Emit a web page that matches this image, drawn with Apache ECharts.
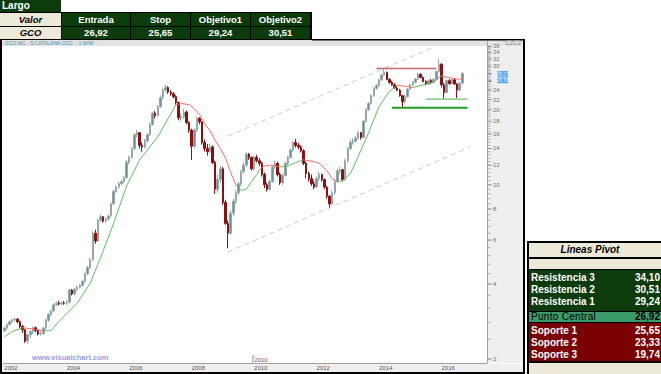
<!DOCTYPE html>
<html><head><meta charset="utf-8">
<script src="https://cdn.jsdelivr.net/npm/echarts@6/dist/echarts.min.js"></script>
<style>
html,body{margin:0;padding:0;background:#fff;width:661px;height:374px;overflow:hidden;font-family:"Liberation Sans",Arial,sans-serif;}
#chart{position:absolute;left:0;top:0;width:661px;height:374px;}
.c{position:absolute;box-sizing:border-box;white-space:nowrap;overflow:hidden;}
</style></head><body>
<div id="chart"></div>
<div id="tables"></div>
<script>
// ---------- DATA ----------
const years = [2002,2003,2004,2005,2006,2007,2008,2009,2010,2011,2012,2013,2014,2015,2016,2017];
const monthCodes = ['01','02','03','04','05','06','07','08','09','10','11','12'];
const lastCategory = '2017-06';

const opens = [
 2.60,2.66,2.75,2.82,2.87,2.89,2.82,2.70,2.62,2.36,2.50,2.58,
 2.67,2.60,2.52,2.53,2.66,2.86,3.02,3.12,3.30,3.35,3.33,3.36,
 3.35,3.38,3.78,3.65,3.80,3.88,3.95,4.10,4.40,4.65,5.00,6.40,
 5.95,7.20,7.45,7.15,7.30,7.50,8.40,9.40,9.80,10.1,10.3,10.7,
 12.3,12.9,14.0,15.9,16.2,14.4,14.2,15.0,15.9,17.5,19.4,19.0,
 20.6,22.4,24.0,24.6,23.6,23.2,22.6,21.4,18.6,18.8,19.6,17.8,
 16.6,14.3,16.6,18.5,17.9,14.8,14.0,13.6,14.2,12.3,9.6,10.5,
 11.6,8.5,7.0,6.4,7.7,8.6,9.3,10.1,11.3,12.0,13.3,12.9,
 11.6,12.9,12.5,12.2,11.0,10.0,9.6,10.3,11.8,12.2,11.0,10.2,
 10.9,12.2,12.9,13.8,14.8,14.4,14.2,13.7,12.2,11.1,10.6,10.1,
 9.8,10.6,11.0,10.5,9.8,9.0,8.4,9.3,10.3,11.4,11.5,10.5,
 12.5,14.0,14.8,15.0,15.4,16.2,15.5,18.0,20.0,21.2,22.8,24.4,
 25.0,26.4,27.6,28.3,26.5,25.8,25.2,24.5,24.0,22.8,21.6,22.6,
 24.2,25.2,25.8,26.6,27.8,27.0,26.0,25.4,26.2,25.8,26.5,28.5,
 30.5,25.2,23.5,26.2,25.5,26.4,25.4,24.0,25.6
];
const closes = [
 2.66,2.75,2.82,2.87,2.89,2.82,2.70,2.62,2.36,2.50,2.58,2.67,
 2.60,2.52,2.53,2.66,2.86,3.02,3.12,3.30,3.35,3.33,3.36,3.35,
 3.38,3.78,3.65,3.80,3.88,3.95,4.10,4.40,4.65,5.00,6.40,5.95,
 7.20,7.45,7.15,7.30,7.50,8.40,9.40,9.80,10.1,10.3,10.7,12.3,
 12.9,14.0,15.9,16.2,14.4,14.2,15.0,15.9,17.5,19.4,19.0,20.6,
 22.4,24.0,24.6,23.6,23.2,22.6,21.4,18.6,18.8,19.6,17.8,16.6,
 14.3,16.6,18.5,17.9,14.8,14.0,13.6,14.2,12.3,9.6,10.5,11.6,
 8.5,7.0,6.4,7.7,8.6,9.3,10.1,11.3,12.0,13.3,12.9,11.6,
 12.9,12.5,12.2,11.0,10.0,9.6,10.3,11.8,12.2,11.0,10.2,10.9,
 12.2,12.9,13.8,14.8,14.4,14.2,13.7,12.2,11.1,10.6,10.1,9.8,
 10.6,11.0,10.5,9.8,9.0,8.4,9.3,10.3,11.4,11.5,10.5,12.5,
 14.0,14.8,15.0,15.4,16.2,15.5,18.0,20.0,21.2,22.8,24.4,25.0,
 26.4,27.6,28.3,26.5,25.8,25.2,24.5,24.0,22.8,21.6,22.6,24.2,
 25.2,25.8,26.6,27.8,27.0,26.0,25.4,26.2,25.8,26.5,28.5,30.5,
 25.2,23.5,26.2,25.5,26.4,25.4,24.0,25.6,28.07
];
const lows = [
 2.56,2.62,2.72,2.78,2.83,2.78,2.66,2.55,2.32,2.30,2.42,2.52,
 2.56,2.48,2.48,2.50,2.62,2.82,2.98,3.08,3.26,3.28,3.28,3.30,
 3.30,3.34,3.60,3.60,3.74,3.84,3.90,4.05,4.35,4.60,4.95,5.80,
 5.90,7.10,7.05,7.05,7.20,7.45,8.30,9.30,9.65,9.95,10.2,10.6,
 12.1,12.7,13.8,15.5,14.0,13.6,14.0,14.8,15.7,17.3,18.5,18.8,
 20.4,22.0,23.6,23.2,22.8,22.2,21.0,18.2,18.0,18.4,17.5,16.2,
 12.6,14.0,16.3,17.5,14.5,13.6,13.1,13.4,12.1,9.2,9.3,10.2,
 8.3,6.9,5.56,6.3,7.5,8.4,9.1,9.9,11.1,11.8,12.6,11.4,
 11.4,12.3,11.9,10.8,9.7,9.4,9.5,10.2,11.6,10.8,10.0,10.0,
 10.8,12.0,12.7,13.6,14.1,13.9,13.5,12.0,10.6,10.3,9.9,9.6,
 9.7,10.4,10.3,9.6,8.8,8.1,8.3,9.1,10.2,11.1,10.3,10.4,
 12.3,13.8,14.5,14.8,15.2,15.2,15.4,17.8,19.8,21.0,22.6,24.1,
 24.8,26.1,27.4,26.3,25.4,25.0,24.3,23.8,22.6,20.4,21.3,22.4,
 24.0,25.0,25.6,26.4,26.8,25.8,25.1,25.2,25.4,25.6,26.3,28.3,
 24.6,22.2,23.3,25.2,25.3,25.2,22.3,23.8,25.4
];
const highs = [
 2.70,2.78,2.86,2.90,2.93,2.92,2.85,2.74,2.64,2.52,2.60,2.70,
 2.70,2.64,2.58,2.70,2.90,3.06,3.16,3.34,3.40,3.42,3.40,3.42,
 3.45,3.82,3.82,3.86,3.94,4.00,4.16,4.45,4.72,5.10,6.50,6.60,
 7.30,7.60,7.50,7.40,7.60,8.50,9.55,9.95,10.3,10.5,10.9,12.6,
 13.1,14.2,16.1,16.6,16.3,14.8,15.3,16.1,17.8,19.7,19.8,20.9,
 22.8,24.4,25.2,24.9,24.0,23.6,22.9,21.6,19.4,20.2,19.9,18.0,
 16.8,16.9,18.8,18.7,18.0,15.2,14.6,14.6,14.4,12.5,11.0,11.9,
 11.8,8.7,7.2,7.9,8.8,9.5,10.3,11.5,12.3,13.5,13.4,13.0,
 13.1,13.2,12.8,12.4,11.2,10.2,10.5,12.0,12.5,12.4,11.2,11.1,
 12.4,13.1,14.0,15.0,15.3,14.7,14.4,13.9,12.4,11.3,11.0,10.4,
 10.8,11.3,11.1,10.6,9.9,9.1,9.5,10.5,11.6,11.8,11.6,12.7,
 14.2,15.2,15.4,15.7,16.5,16.3,18.2,20.3,21.5,23.1,24.7,25.4,
 26.7,27.9,29.3,28.5,26.8,26.2,25.6,24.9,24.3,23.0,23.0,24.5,
 25.5,26.1,26.9,28.2,28.1,27.2,26.3,26.5,26.6,26.8,28.8,32.0,
 30.8,25.6,26.5,26.6,26.7,26.7,25.6,25.9,28.3
];

const maGreenSegments = [
 [['2002-01',2.45],['2002-04',2.58],['2002-08',2.67]],
 [['2003-04',2.59],['2003-07',2.60],['2003-10',2.83],['2004-05',3.35],['2004-10',4.03],['2005-02',5.1],['2005-07',7.0],['2005-12',9.9],['2006-05',12.6],['2006-12',15.6],['2007-07',21.0]],
 [['2009-06',10.0],['2009-08',9.5],['2009-10',9.6],['2009-12',10.3],['2010-02',11.0],['2010-03',11.5]],
 [['2010-11',11.8],['2011-02',11.9],['2011-05',12.3],['2011-08',12.6]],
 [['2012-09',10.3],['2012-11',10.4],['2013-02',11.1],['2013-05',13.0],['2013-09',16.2],['2014-01',20.6],['2014-05',23.7],['2014-08',25.1]],
 [['2015-02',24.6],['2015-06',25.2],['2015-10',25.8],['2015-12',27.0],['2016-01',27.4]]
];
const maRedSegments = [
 [['2002-08',2.67],['2002-12',2.64],['2003-04',2.59]],
 [['2007-07',21.0],['2007-09',21.2],['2007-12',21.0],['2008-02',20.2],['2008-04',19.2],['2008-06',17.6],['2008-08',16.5],['2008-10',15.1],['2008-12',14.0],['2009-02',12.8],['2009-04',11.2],['2009-06',10.0]],
 [['2010-03',11.5],['2010-05',11.9],['2010-08',12.0],['2010-11',11.8]],
 [['2011-08',12.6],['2011-12',12.4],['2012-02',12.2],['2012-05',11.4],['2012-07',10.6],['2012-09',10.3]],
 [['2014-08',25.1],['2014-11',24.9],['2015-02',24.6]],
 [['2016-01',27.4],['2016-04',26.9],['2016-07',26.6],['2016-09',26.56]]
];

const channelUpper = [['2009-03',15.7],['2015-10',35.8]];
const channelLower = [['2009-03',5.38],['2016-12',14.2]];
const resistanceLine = [['2013-12',29.3],['2015-11',29.3]];
const supportThin = [['2015-07',22.1],['2016-11',22.1]];
const supportThick = [['2014-06',20.4],['2016-11',20.4]];

const yTickLabels = [2,4,6,8,10,12,14,16,18,20,22,24,26,28,30,32,34,36];
const yMinorStep = 0.4;
const lastValues = [28.07, 26.56];
const lastValueLabels = ['28,07','26,56'];

const tradeTitle = 'Largo';
const tradeHeaders = ['Valor','Entrada','Stop','Objetivo1','Objetivo2'];
const tradeValues = ['GCO','26,92','25,65','29,24','30,51'];
const pivotTitle = 'Lineas Pivot';
const pivotLabels = ['Resistencia 3','Resistencia 2','Resistencia 1','Punto Central','Soporte 1','Soporte 2','Soporte 3'];
const pivotValues = ['34,10','30,51','29,24','26,92','25,65','23,33','19,74'];
const infoText = 'GCO.MC - S.CATALANA OCC. - 1 W/W';
const watermark = 'www.visualchart.com';
const cursorLabel = '2010';

// ---------- BUILD ----------
const categories = [];
outer: for (const y of years) { for (const m of monthCodes) { const c = y + '-' + m; categories.push(c); if (c === lastCategory) break outer; } }
const candles = closes.map((c, i) => [opens[i], c, lows[i], highs[i]]);
const isYearStart = (i, v) => v.endsWith('-01') && parseInt(v, 10) % 2 === 0 && parseInt(v,10) <= 2016;
const FONT = '"Liberation Sans", Arial, sans-serif';

const series = [{
  type: 'candlestick', data: candles, barWidth: 2, silent: true,
  itemStyle: { color: '#6b9494', color0: '#8b1111', borderColor: '#93a9a9', borderColor0: '#8b1111', borderWidth: 1 }
}];
maRedSegments.forEach(seg => series.push({ type: 'line', data: seg, symbol: 'none', silent: true, z: 3, lineStyle: { color: '#ff6a6a', width: 1 } }));
maGreenSegments.forEach(seg => series.push({ type: 'line', data: seg, symbol: 'none', silent: true, z: 3, lineStyle: { color: '#5cbf5c', width: 1 } }));
[channelUpper, channelLower].forEach(seg => series.push({ type: 'line', data: seg, symbol: 'none', silent: true, z: 3, lineStyle: { color: '#c9c9c9', width: 1, type: [5, 4] } }));
series.push({ type: 'line', data: resistanceLine, symbol: 'none', silent: true, z: 4, lineStyle: { color: '#c86a6a', width: 1.5 } });
series.push({ type: 'line', data: supportThin, symbol: 'none', silent: true, z: 4, lineStyle: { color: '#6cbf6c', width: 1.2 } });
series.push({ type: 'line', data: supportThick, symbol: 'none', silent: true, z: 4, lineStyle: { color: '#1f9f1f', width: 2 } });

const chart = echarts.init(document.getElementById('chart'), null, { renderer: 'svg', width: 661, height: 374 });
chart.setOption({
  animation: false,
  backgroundColor: 'transparent',
  grid: { left: 3, top: 41, width: 484, height: 322, containLabel: false, outerBoundsMode: 'none' },
  xAxis: {
    type: 'category', data: categories, boundaryGap: true,
    axisLine: { onZero: false, lineStyle: { color: '#a0a0a0', width: 1 } },
    axisTick: { interval: isYearStart, length: 8, lineStyle: { color: '#808080' } },
    axisLabel: { interval: isYearStart, formatter: v => v.slice(0, 4), fontSize: 6, color: '#555', align: 'left', margin: 2, fontFamily: FONT },
    splitLine: { show: false }
  },
  yAxis: {
    type: 'log', logBase: 2, position: 'right', min: 1.927, max: 37.8,
    axisLine: { show: true, lineStyle: { color: '#a0a0a0' } },
    axisTick: { show: false }, axisLabel: { show: false }, splitLine: { show: false }
  },
  series: series
});

// ---------- OVERLAYS (positions from the chart's scales) ----------
const yPix = v => chart.convertToPixel({ yAxisIndex: 0 }, v);
const xPix = c => chart.convertToPixel({ xAxisIndex: 0 }, c);
const g = [];
const rect = (x, y, w, h, fill, z) => g.push({ type: 'rect', silent: true, z: z, shape: { x, y, width: w, height: h }, style: { fill } });
rect(2, 40, 521, 6, '#e3e3e3', -1);
rect(488, 46, 35, 317, '#efefef', -1);
rect(2, 364, 521, 8, '#efefef', -1);
rect(0, 39, 2, 335, '#000', 90);
rect(523, 39, 2, 335, '#000', 90);
rect(0, 372, 525, 2, '#000', 90);
rect(312, 39, 213, 1.5, '#000', 90);
g.push({ type: 'rect', silent: true, z: 91, shape: { x: 506, y: 40.5, width: 6, height: 4 }, style: { fill: '#ddd', stroke: '#888', lineWidth: 0.6 } });
g.push({ type: 'rect', silent: true, z: 91, shape: { x: 514, y: 40.5, width: 6, height: 4 }, style: { fill: '#ddd', stroke: '#888', lineWidth: 0.6 } });
g.push({ type: 'text', silent: true, z: 91, x: 5, y: 43, style: { text: infoText, fontSize: 5, fontFamily: FONT, fill: '#4a8ea6', verticalAlign: 'middle' } });

// value boxes first (they hide the labels they cover, as in the reference)
const boxes = [];
let prevBottom = -1;
lastValues.forEach((v, i) => {
  let top = yPix(v) - 2;
  if (top < prevBottom + 0.8) top = prevBottom + 0.8;
  boxes.push([top, top + 5.6]);
  g.push({ type: 'rect', silent: true, z: 95, shape: { x: 497.5, y: top, width: 10.5, height: 5.6 }, style: { fill: '#3d9bf0' } });
  g.push({ type: 'text', silent: true, z: 96, x: 502.7, y: top + 2.9, style: { text: lastValueLabels[i], fontSize: 4.6, fontFamily: FONT, fill: '#fff', align: 'center', verticalAlign: 'middle' } });
  g.push({ type: 'line', silent: true, z: 95, shape: { x1: 489, y1: top + 2.8, x2: 491, y2: top + 2.8 }, style: { stroke: '#3d9bf0', lineWidth: 1.5 } });
  prevBottom = top + 5.6;
});

for (let k = 0; 2 + k * yMinorStep <= 36.01; k++) {
  const yy = yPix(2 + k * yMinorStep);
  g.push({ type: 'line', silent: true, z: 80, shape: { x1: 488, y1: yy, x2: 490.5, y2: yy }, style: { stroke: '#9a9a9a', lineWidth: 0.7 } });
}
yTickLabels.forEach(v => {
  const yy = yPix(v);
  g.push({ type: 'line', silent: true, z: 80, shape: { x1: 488, y1: yy, x2: 492, y2: yy }, style: { stroke: '#888', lineWidth: 0.8 } });
  const hidden = boxes.some(b => yy > b[0] - 3 && yy < b[1] + 3);
  if (!hidden) {
    g.push({ type: 'text', silent: true, z: 81, x: 493, y: yy, style: { text: String(v), fontSize: 6, fontFamily: FONT, fill: '#707070', verticalAlign: 'middle' } });
  }
});
g.push({ type: 'text', silent: true, z: 92, x: 32, y: 357, style: { text: watermark, fontSize: 7.5, fontWeight: 'bold', fontFamily: FONT, fill: '#9b9bd8', verticalAlign: 'middle' } });
const cx = xPix('2010-01') - 1.3;
g.push({ type: 'line', silent: true, z: 92, shape: { x1: cx, y1: 356, x2: cx, y2: 363 }, style: { stroke: '#666', lineWidth: 0.7 } });
g.push({ type: 'line', silent: true, z: 92, shape: { x1: cx, y1: 356, x2: cx + 2, y2: 356 }, style: { stroke: '#666', lineWidth: 0.7 } });
g.push({ type: 'text', silent: true, z: 92, x: cx + 1.5, y: 359.5, style: { text: cursorLabel, fontSize: 6, fontFamily: FONT, fill: '#555', verticalAlign: 'middle' } });
chart.setOption({ graphic: { elements: g } });

// ---------- HTML TABLES ----------
const host = document.getElementById('tables');
function box(x, y, w, h, bg, text, css) {
  const d = document.createElement('div');
  d.className = 'c';
  d.style.cssText = `left:${x}px;top:${y}px;width:${w}px;height:${h}px;background:${bg};line-height:${h}px;` + (css || '');
  if (text !== undefined) d.textContent = text;
  host.appendChild(d);
  return d;
}
const GREEN = '#0c3b0c', BEIGE = '#ece9d8', RED = '#7a0000', MID = '#3a9a6a';
// trade table
box(0, 0, 61, 12, GREEN, tradeTitle, 'color:#fff;font-weight:bold;font-size:10px;padding-left:2px;');
box(0, 12, 312, 28, '#000');
const colX = [[0, 61], [62, 68], [131, 59], [191, 59], [251, 59]];
tradeHeaders.forEach((t, i) => {
  const first = i === 0;
  box(colX[i][0], 13, colX[i][1], 13, first ? BEIGE : GREEN, t, `text-align:center;font-weight:bold;font-size:9.5px;color:${first ? '#000' : '#fff'};${first ? 'font-style:italic;' : ''}`);
});
tradeValues.forEach((t, i) => {
  const first = i === 0;
  box(colX[i][0], 27, colX[i][1], 12, first ? BEIGE : GREEN, t, `text-align:center;font-weight:bold;font-size:9.5px;color:${first ? '#000' : '#fff'};${first ? 'font-style:italic;' : ''}`);
});
// pivot table
box(527, 241, 134, 133, '#000');
box(529, 243, 132, 14, BEIGE);
box(529, 243, 122, 14, 'transparent', pivotTitle, 'text-align:center;font-weight:bold;font-style:italic;font-size:10px;color:#000;');
box(529, 259, 132, 10, BEIGE);
box(529, 270, 132, 41, GREEN);
box(529, 312, 132, 10, MID);
box(529, 323, 132, 38, RED);
box(529, 363, 132, 11, BEIGE);
const rowY = [272, 284, 296, 311, 324.5, 336.5, 348.5];
pivotLabels.forEach((t, i) => {
  const central = i === 3;
  box(531, rowY[i], 80, 12, 'transparent', t, `font-size:10px;font-weight:${central ? 'normal' : 'bold'};color:${central ? '#000' : '#fff'};letter-spacing:${central ? '0.3px' : '0'};`);
  box(610, rowY[i], 50, 12, 'transparent', pivotValues[i], `text-align:right;font-size:10px;font-weight:bold;color:${central ? '#000' : '#fff'};`);
});
</script>
</body></html>
